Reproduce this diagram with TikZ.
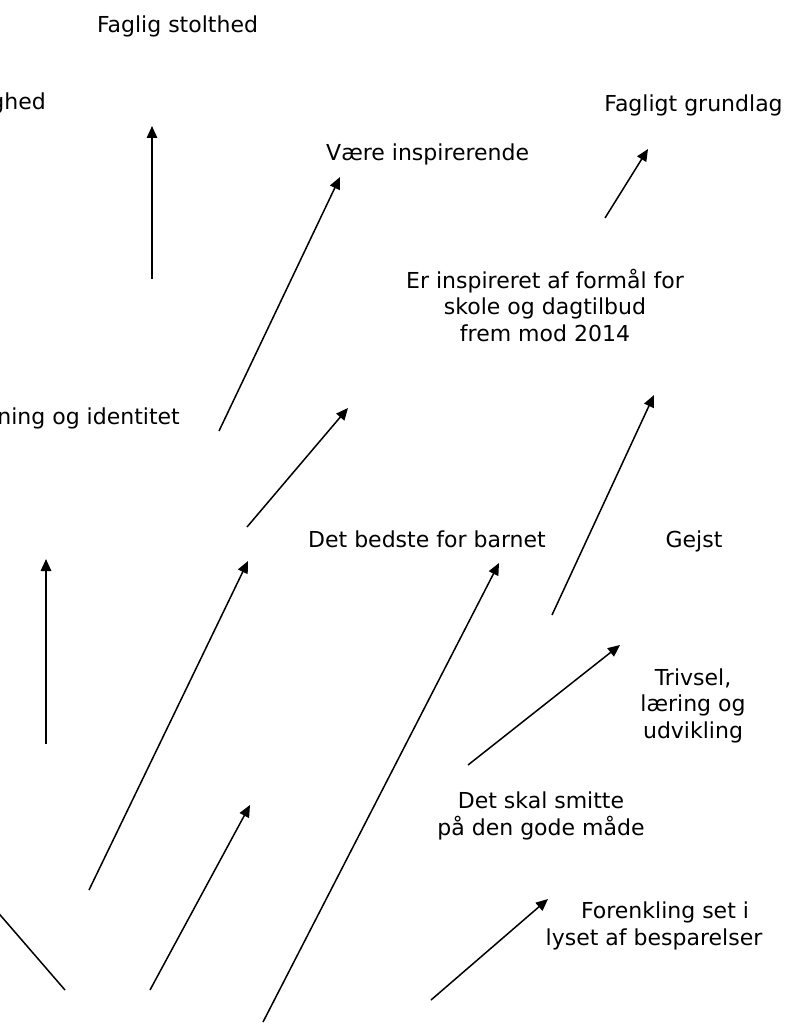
\documentclass[tikz,border=0pt]{standalone}
\usepackage{fontspec}
\setmainfont{DejaVu Sans}
\usetikzlibrary{arrows.meta}
\begin{document}
\begin{tikzpicture}[x=1pt,y=-1pt,
  lbl/.style={inner sep=0pt, font=\fontsize{22}{26.5}\selectfont, align=center},
  arr/.style={line width=1.5pt, -{Triangle[length=12pt,width=10.5pt]}},
  ln/.style={line width=1.5pt}]
\useasboundingbox (0,0) rectangle (789,1024);
\clip (0,0) rectangle (789,1024);

% labels (multi-line labels are anchored at the baseline of their last line)
\node[lbl, anchor=base] (stolthed) at (177.5,33) {Faglig stolthed};
\node[lbl, anchor=base east] (ghed) at (46,110) {ghed};
\node[lbl, anchor=base] (grundlag) at (693.5,112) {Fagligt grundlag};
\node[lbl, anchor=base west] (vaere) at (326,161) {Være inspirerende};
\node[lbl, anchor=base] (formaal) at (545,341) {Er inspireret af formål for\\skole og dagtilbud\\frem mod 2014};
\node[lbl, anchor=base east] (identitet) at (180,424) {ning og identitet};
\node[lbl, anchor=base west] (bedste) at (308,547) {Det bedste for barnet};
\node[lbl, anchor=base] (gejst) at (694,547) {Gejst};
\node[lbl, anchor=base] (trivsel) at (693,738) {Trivsel,\\læring og\\udvikling};
\node[lbl, anchor=base] (smitte) at (541,835) {Det skal smitte\\på den gode måde};
\node[lbl, anchor=base] (forenkling) at (654,945) {\hspace*{22pt}Forenkling set i\\lyset af besparelser};

% arrow end points
\coordinate (a1s) at (152,279);  \coordinate (a1e) at (152,126);
\coordinate (a2s) at (219,431);  \coordinate (a2e) at (340,177);
\coordinate (a3s) at (605,218);  \coordinate (a3e) at (648,149);
\coordinate (a4s) at (247,527);  \coordinate (a4e) at (348,408);
\coordinate (a5s) at (552,615);  \coordinate (a5e) at (654,395);
\coordinate (a6s) at (46,744);   \coordinate (a6e) at (46,559);
\coordinate (a7s) at (89,890);   \coordinate (a7e) at (248,561);
\coordinate (a8s) at (263,1022); \coordinate (a8e) at (499,563);
\coordinate (a9s) at (468,765);  \coordinate (a9e) at (620,645);
\coordinate (a10s) at (150,990); \coordinate (a10e) at (250,805);
\coordinate (a11s) at (431,1000);\coordinate (a11e) at (548,899);
\coordinate (l1s) at (65,990);   \coordinate (l1e) at (-5,909);

% arrows
\draw[arr] (a1s) -- (a1e);
\draw[arr] (a2s) -- (a2e);
\draw[arr] (a3s) -- (a3e);
\draw[arr] (a4s) -- (a4e);
\draw[arr] (a5s) -- (a5e);
\draw[arr] (a6s) -- (a6e);
\draw[arr] (a7s) -- (a7e);
\draw[arr] (a8s) -- (a8e);
\draw[arr] (a9s) -- (a9e);
\draw[arr] (a10s) -- (a10e);
\draw[arr] (a11s) -- (a11e);
\draw[ln] (l1s) -- (l1e);
\end{tikzpicture}
\end{document}
